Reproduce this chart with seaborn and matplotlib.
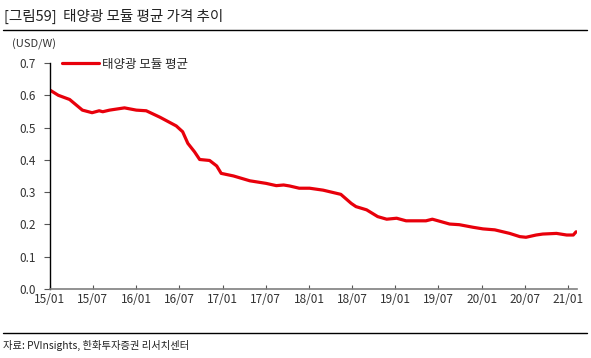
import pandas as pd
import matplotlib.pyplot as plt
import matplotlib.dates as mdates
import seaborn as sns

# 태양광 모듈 평균 가격 (USD/W), 그림에서 읽은 값
dates = ['2015-01-01', '2015-02-05', '2015-03-25', '2015-05-18', '2015-06-28',
         '2015-07-28', '2015-08-12', '2015-09-10', '2015-11-12', '2016-01-01',
         '2016-02-12', '2016-04-10', '2016-06-18', '2016-07-15', '2016-08-06',
         '2016-09-03', '2016-09-25', '2016-11-06', '2016-12-06', '2016-12-25',
         '2017-02-15', '2017-04-25', '2017-07-03', '2017-08-15', '2017-09-15',
         '2017-10-10', '2017-11-20', '2018-01-03', '2018-03-01', '2018-05-15',
         '2018-06-28', '2018-07-18', '2018-09-01', '2018-10-18', '2018-11-25',
         '2019-01-06', '2019-02-15', '2019-05-10', '2019-06-06', '2019-08-18',
         '2019-09-28', '2019-11-25', '2020-01-06', '2020-02-25', '2020-04-28',
         '2020-06-10', '2020-07-06', '2020-08-18', '2020-09-15', '2020-11-12',
         '2020-12-25', '2021-01-22', '2021-02-03']
price = [0.616, 0.600, 0.587, 0.554, 0.546,
         0.552, 0.549, 0.554, 0.561, 0.554,
         0.552, 0.532, 0.505, 0.487, 0.451,
         0.425, 0.401, 0.398, 0.381, 0.358,
         0.350, 0.335, 0.327, 0.320, 0.322,
         0.319, 0.312, 0.312, 0.306, 0.293,
         0.265, 0.255, 0.245, 0.224, 0.216,
         0.219, 0.211, 0.211, 0.216, 0.201,
         0.199, 0.191, 0.186, 0.183, 0.172,
         0.162, 0.160, 0.167, 0.170, 0.172,
         0.167, 0.167, 0.177]
series_name = '태양광 모듈 평균'

df = pd.DataFrame({'date': pd.to_datetime(dates), 'price': price})

sns.set_style('white')
plt.rcParams['font.family'] = ['Noto Sans CJK KR', 'DejaVu Sans']

fig = plt.figure(figsize=(5.91, 3.58), dpi=100)
ax = fig.add_axes([0.0846, 0.193, 0.8914, 0.631])

sns.lineplot(x='date', y='price', data=df, ax=ax, color='#e8000b',
             linewidth=2.3, label=series_name)

ax.set_ylim(0, 0.7)
ax.set_yticks([0.0, 0.1, 0.2, 0.3, 0.4, 0.5, 0.6, 0.7])
ax.yaxis.set_major_formatter(plt.FormatStrFormatter('%.1f'))
ax.set_xlim(pd.Timestamp('2015-01-01'), pd.Timestamp('2021-02-06'))
ax.xaxis.set_major_locator(mdates.MonthLocator(bymonth=[1, 7]))
ax.xaxis.set_major_formatter(mdates.DateFormatter('%y/%m'))
ax.set_xlabel('')
ax.set_ylabel('')

for s in ['top', 'right']:
    ax.spines[s].set_visible(False)
ax.spines['left'].set_color('black')
ax.spines['left'].set_linewidth(1.0)
ax.spines['bottom'].set_color('#7f7f7f')
ax.spines['bottom'].set_linewidth(1.2)
ax.tick_params(axis='y', direction='out', length=4, width=0.8, color='#555555',
               labelsize=8.5, left=True, pad=6)
ax.tick_params(axis='x', direction='in', length=3, width=0.8, color='#555555',
               labelsize=8.5, bottom=True, pad=3)
ax.tick_params(labelcolor='#333333')

leg = ax.legend(loc='upper left', frameon=False, fontsize=9, handlelength=2.9,
                handletextpad=0.3, bbox_to_anchor=(0.014, 1.045), borderaxespad=0)

fig.text(0.006, 0.955, '[그림59]  태양광 모듈 평균 가격 추이', fontsize=10.5,
         color='#222222', va='center', ha='left')
fig.add_artist(plt.Line2D([0.005, 0.993], [0.915, 0.915], color='black',
                          linewidth=1.0, transform=fig.transFigure))
fig.text(0.02, 0.875, '(USD/W)', fontsize=8, color='#333333', va='center')
fig.add_artist(plt.Line2D([0.005, 0.993], [0.071, 0.071], color='black',
                          linewidth=1.0, transform=fig.transFigure))
fig.text(0.005, 0.036, '자료: PVInsights, 한화투자증권 리서치센터', fontsize=7.4,
         color='#222222', va='center', ha='left')

fig.savefig('out.png', dpi=100)
